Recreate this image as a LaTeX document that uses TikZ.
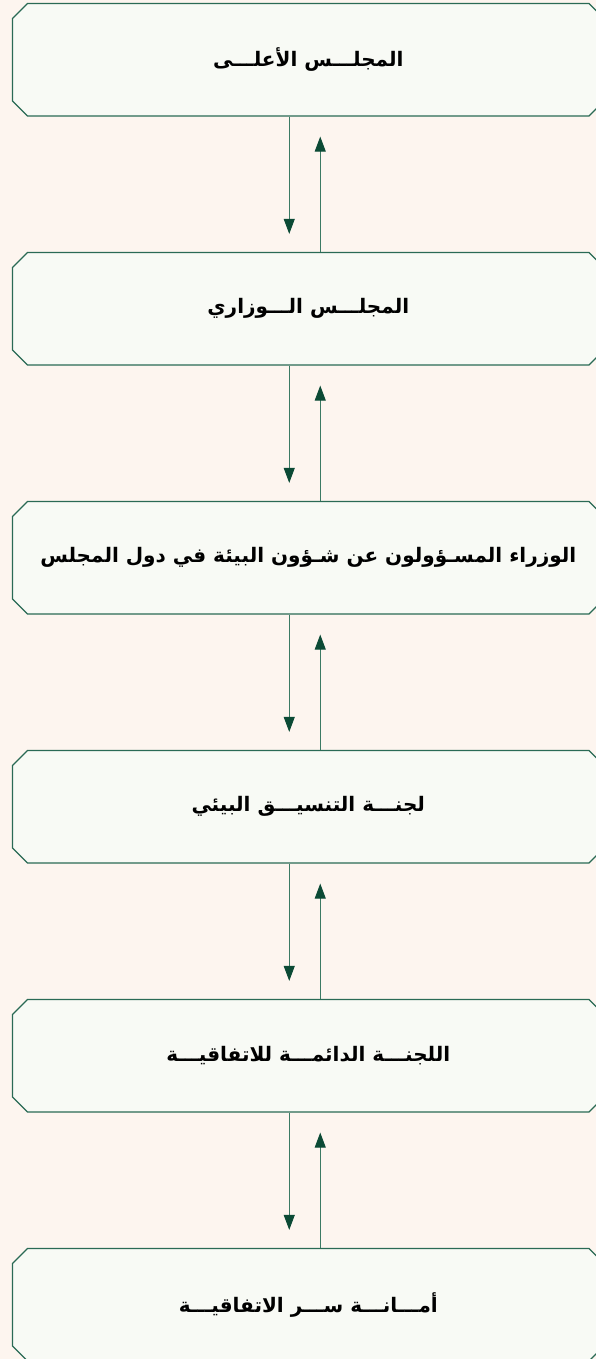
\documentclass[tikz,border=0pt]{standalone}
\usepackage{fontspec}
\newfontfamily\arabicfont[Script=Arabic]{DejaVu Sans}
\TeXXeTstate=1
\usetikzlibrary{shapes.misc,arrows.meta}
\definecolor{bg}{HTML}{FDF5EF}
\definecolor{boxfill}{HTML}{F8FAF5}
\definecolor{boxline}{HTML}{2A6A55}
\definecolor{arrline}{HTML}{3C7A64}
\definecolor{arrhead}{HTML}{0B4A35}
\tikzset{
  box/.style={chamfered rectangle, chamfered rectangle xsep=7.5pt, chamfered rectangle ysep=7.5pt,
    draw=boxline, fill=boxfill, line width=1.2pt, minimum width=591.5pt, minimum height=112.5pt,
    inner sep=0pt, text=black, font=\arabicfont\bfseries\fontsize{20}{24}\selectfont},
  arr/.style={draw=arrline, line width=0.9pt, -{Triangle[length=15pt,width=11pt,color=arrhead,fill=arrhead]}},
}
\begin{document}
\begin{tikzpicture}[x=1pt,y=-1pt]
\useasboundingbox (0,0) rectangle (596,1359);
\fill[bg] (0,0) rectangle (596,1359);
\node[box] (b1) at (308.25,59.75) {\beginR المجلـــس الأعلـــى\endR};
\node[box] (b2) at (308.25,308.75) {\beginR المجلـــس الـــوزاري\endR};
\node[box] (b3) at (308.25,557.75) {\beginR الوزراء المسـؤولون عن شـؤون البيئة في دول المجلس\endR};
\node[box] (b4) at (308.25,806.75) {\beginR لجنـــة التنسيـــق البيئي\endR};
\node[box] (b5) at (308.25,1055.75) {\beginR اللجنـــة الدائمـــة للاتفاقيـــة\endR};
\node[box] (b6) at (308.25,1304.75) {\beginR أمـــانـــة ســـر الاتفاقيـــة\endR};
\foreach \a/\b in {b1/b2,b2/b3,b3/b4,b4/b5,b5/b6}{
  \draw[arr, shorten >=18pt] ([xshift=-19pt]\a.south) -- ([xshift=-19pt]\b.north);
  \draw[arr, shorten >=20pt] ([xshift=12pt]\b.north) -- ([xshift=12pt]\a.south);
}
\end{tikzpicture}
\end{document}
